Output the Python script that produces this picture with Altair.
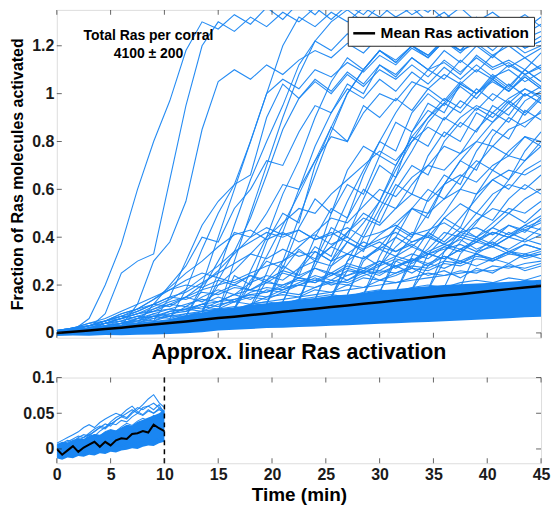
import altair as alt
import pandas as pd

FONT = "Liberation Sans"
BLUE = "#1a86f2"
AX = "#262626"
STEP = 1.5
TMAX = 45.0

# ---------------- top panel data (grid 0, 1.5, ..., 45) ----------------
mean_top = [0.0, 0.005, 0.01, 0.016, 0.022, 0.029, 0.035, 0.041, 0.048, 0.055, 0.062,
            0.068, 0.075, 0.081, 0.088, 0.095, 0.101, 0.108, 0.115, 0.122, 0.128,
            0.135, 0.142, 0.149, 0.156, 0.162, 0.169, 0.176, 0.183, 0.19, 0.196]

core_lo = [-0.013, -0.011, -0.012, -0.009, -0.01, -0.008, -0.007, -0.005, -0.001, 0.003,
           0.01, 0.013, 0.016, 0.02, 0.022, 0.025, 0.027, 0.03, 0.032, 0.035, 0.038,
           0.04, 0.043, 0.046, 0.049, 0.052, 0.055, 0.058, 0.061, 0.065, 0.068]
core_hi = [0.012, 0.018, 0.022, 0.029, 0.035, 0.042, 0.05, 0.058, 0.075, 0.085, 0.1,
           0.106, 0.118, 0.124, 0.13, 0.14, 0.146, 0.155, 0.16, 0.168, 0.178,
           0.182, 0.19, 0.195, 0.2, 0.203, 0.207, 0.21, 0.214, 0.218, 0.222]

m01 = [0.01, 0.02, 0.03, 0.05, 0.07, 0.06, 0.1, 0.12, 0.11, 0.15, 0.18, 0.16, 0.21, 0.24, 0.22, 0.27,
       0.3, 0.28, 0.33, 0.31, 0.36, 0.34, 0.38, 0.41, 0.37, 0.42, 0.4, 0.44, 0.41, 0.45, 0.43]
m02 = [0.0, 0.02, 0.04, 0.05, 0.08, 0.1, 0.14, 0.19, 0.25, 0.3, 0.36, 0.41, 0.43, 0.39, 0.42, 0.38,
       0.41, 0.37, 0.4, 0.36, 0.39, 0.42, 0.38, 0.4, 0.37, 0.41, 0.39, 0.36, 0.4, 0.38, 0.41]
m03 = [0.01, 0.01, 0.03, 0.04, 0.06, 0.08, 0.09, 0.12, 0.15, 0.2, 0.26, 0.33, 0.4, 0.44, 0.41, 0.43,
       0.39, 0.42, 0.38, 0.35, 0.38, 0.34, 0.37, 0.33, 0.36, 0.39, 0.35, 0.38, 0.34, 0.37, 0.35]
m04 = [0.0, 0.01, 0.02, 0.04, 0.05, 0.07, 0.06, 0.09, 0.1, 0.12, 0.11, 0.14, 0.16, 0.15, 0.18, 0.2,
       0.19, 0.22, 0.21, 0.24, 0.26, 0.25, 0.28, 0.27, 0.3, 0.29, 0.32, 0.31, 0.34, 0.33, 0.35]
m05 = [0.01, 0.0, 0.02, 0.03, 0.05, 0.04, 0.07, 0.08, 0.1, 0.09, 0.12, 0.13, 0.12, 0.15, 0.16, 0.15,
       0.18, 0.17, 0.2, 0.19, 0.22, 0.21, 0.23, 0.25, 0.24, 0.26, 0.25, 0.28, 0.27, 0.29, 0.3]
m06 = [0.0, 0.02, 0.01, 0.04, 0.03, 0.06, 0.08, 0.07, 0.11, 0.1, 0.13, 0.16, 0.14, 0.18, 0.17, 0.2,
       0.23, 0.2, 0.22, 0.25, 0.22, 0.24, 0.27, 0.24, 0.26, 0.23, 0.27, 0.25, 0.29, 0.26, 0.28]
m07 = [0.01, 0.02, 0.03, 0.05, 0.07, 0.1, 0.14, 0.18, 0.22, 0.25, 0.23, 0.21, 0.24, 0.22, 0.26, 0.24,
       0.27, 0.25, 0.29, 0.27, 0.3, 0.28, 0.31, 0.29, 0.32, 0.3, 0.33, 0.31, 0.34, 0.32, 0.33]
m08 = [0.0, 0.01, 0.02, 0.03, 0.04, 0.05, 0.07, 0.06, 0.08, 0.09, 0.1, 0.09, 0.12, 0.13, 0.12, 0.14,
       0.15, 0.16, 0.15, 0.17, 0.18, 0.17, 0.19, 0.2, 0.19, 0.21, 0.22, 0.21, 0.23, 0.22, 0.24]
m09 = [0.0, 0.01, 0.03, 0.04, 0.06, 0.05, 0.08, 0.1, 0.09, 0.12, 0.15, 0.13, 0.17, 0.19, 0.18, 0.21,
       0.24, 0.22, 0.26, 0.25, 0.28, 0.31, 0.29, 0.33, 0.31, 0.35, 0.33, 0.37, 0.35, 0.39, 0.37]
m10 = [0.01, 0.01, 0.02, 0.04, 0.06, 0.09, 0.12, 0.11, 0.15, 0.13, 0.17, 0.2, 0.18, 0.22, 0.19, 0.23,
       0.21, 0.25, 0.22, 0.26, 0.24, 0.28, 0.25, 0.29, 0.27, 0.3, 0.28, 0.31, 0.29, 0.33, 0.31]
m11 = [0.0, 0.01, 0.02, 0.02, 0.04, 0.05, 0.05, 0.07, 0.08, 0.08, 0.1, 0.11, 0.1, 0.12, 0.13, 0.13,
       0.14, 0.15, 0.15, 0.16, 0.17, 0.16, 0.18, 0.19, 0.18, 0.2, 0.19, 0.21, 0.2, 0.22, 0.21]
m12 = [0.0, 0.01, 0.02, 0.03, 0.04, 0.06, 0.07, 0.09, 0.1, 0.12, 0.13, 0.14, 0.16, 0.17, 0.19, 0.2,
       0.22, 0.21, 0.24, 0.26, 0.25, 0.28, 0.3, 0.33, 0.31, 0.35, 0.38, 0.36, 0.4, 0.43, 0.41]
m13 = [0.0, 0.01, 0.02, 0.04, 0.06, 0.08, 0.11, 0.14, 0.18, 0.23, 0.28, 0.34, 0.38, 0.42, 0.4, 0.43,
       0.39, 0.41, 0.44, 0.4, 0.42, 0.45, 0.41, 0.43, 0.46, 0.42, 0.44, 0.41, 0.45, 0.43, 0.46]
m14 = [0.01, 0.02, 0.03, 0.05, 0.07, 0.09, 0.12, 0.15, 0.17, 0.21, 0.25, 0.29, 0.33, 0.31, 0.35, 0.32,
       0.34, 0.3, 0.33, 0.31, 0.35, 0.32, 0.36, 0.33, 0.35, 0.37, 0.34, 0.36, 0.33, 0.37, 0.35]
m15 = [0.0, 0.01, 0.02, 0.04, 0.05, 0.07, 0.09, 0.1, 0.12, 0.14, 0.13, 0.16, 0.18, 0.17, 0.2, 0.22,
       0.21, 0.24, 0.27, 0.25, 0.29, 0.32, 0.3, 0.34, 0.37, 0.35, 0.39, 0.42, 0.4, 0.44, 0.47]
m16 = [0.01, 0.0, 0.02, 0.03, 0.04, 0.06, 0.05, 0.08, 0.09, 0.11, 0.1, 0.13, 0.15, 0.14, 0.17, 0.16,
       0.19, 0.21, 0.2, 0.23, 0.22, 0.25, 0.27, 0.26, 0.29, 0.28, 0.31, 0.3, 0.33, 0.32, 0.34]
m17 = [0.0, 0.02, 0.03, 0.05, 0.06, 0.08, 0.1, 0.13, 0.15, 0.18, 0.2, 0.22, 0.25, 0.28, 0.3, 0.34,
       0.31, 0.36, 0.33, 0.38, 0.35, 0.4, 0.36, 0.42, 0.38, 0.44, 0.4, 0.37, 0.42, 0.39, 0.44]
m18 = [0.01, 0.02, 0.04, 0.06, 0.09, 0.12, 0.15, 0.18, 0.2, 0.19, 0.22, 0.2, 0.24, 0.21, 0.25, 0.23,
       0.27, 0.24, 0.28, 0.26, 0.3, 0.27, 0.31, 0.28, 0.32, 0.29, 0.33, 0.3, 0.34, 0.31, 0.33]
m19 = [0.0, 0.01, 0.01, 0.03, 0.04, 0.04, 0.06, 0.07, 0.07, 0.09, 0.1, 0.1, 0.12, 0.13, 0.14, 0.15,
       0.16, 0.17, 0.18, 0.19, 0.2, 0.21, 0.22, 0.23, 0.24, 0.25, 0.26, 0.26, 0.28, 0.27, 0.29]
m20 = [0.01, 0.01, 0.03, 0.05, 0.08, 0.1, 0.12, 0.15, 0.14, 0.17, 0.16, 0.19, 0.18, 0.21, 0.2, 0.23,
       0.22, 0.25, 0.24, 0.27, 0.26, 0.3, 0.33, 0.31, 0.36, 0.34, 0.38, 0.42, 0.4, 0.45, 0.49]
mid_lines = [m01, m02, m03, m04, m05, m06, m07, m08, m09, m10, m11, m12, m13, m14,
             m15, m16, m17, m18, m19, m20]

# trajectories that leave the band and climb (start time, values every 1.5 min)
riser_start = [1.5, 3.0, 6.0, 9.0, 10.5, 12.0, 13.5, 13.5, 15.0, 16.5, 16.5, 18.0, 19.5, 19.5,
               21.0, 22.5, 24.0, 25.5, 27.0, 28.5, 30.0, 31.5, 33.0, 34.5, 36.0, 37.5,
               13.5, 18.0, 22.5, 25.5, 15.0,
               7.5, 19.5, 22.5, 24.0, 27.0, 28.5, 30.0, 31.5, 33.0, 34.5, 12.0, 16.5, 21.0, 25.5]
r01 = [0.01, 0.06, 0.2, 0.37, 0.6, 0.8, 0.97, 1.18, 1.3, 1.27, 1.33, 1.29, 1.36, 1.31, 1.38, 1.33,
       1.4, 1.35, 1.42, 1.38, 1.45, 1.4, 1.43, 1.39, 1.44, 1.4, 1.46, 1.42, 1.45, 1.41, 1.44]
r02 = [0.02, 0.08, 0.25, 0.3, 0.33, 0.64, 0.95, 1.2, 1.3, 1.26, 1.32, 1.28, 1.34, 1.3, 1.36, 1.31,
       1.37, 1.33, 1.4, 1.35, 1.38, 1.34, 1.4, 1.36, 1.41, 1.37, 1.42, 1.38, 1.41]
r03 = [0.03, 0.12, 0.3, 0.38, 0.55, 0.85, 1.05, 1.1, 1.06, 1.12, 1.08, 1.14, 1.18, 1.15, 1.21, 1.17,
       1.24, 1.2, 1.26, 1.22, 1.28, 1.24, 1.3, 1.26, 1.31, 1.27, 1.32]
r04 = [0.05, 0.15, 0.3, 0.45, 0.55, 0.62, 0.8, 1.0, 1.06, 1.02, 1.1, 1.07, 1.13, 1.09, 1.16, 1.12,
       1.19, 1.15, 1.22, 1.18, 1.25, 1.21, 1.27, 1.23, 1.26]
r05 = [0.06, 0.18, 0.35, 0.5, 0.62, 0.66, 0.9, 1.04, 0.98, 1.06, 1.01, 1.09, 1.04, 1.12, 1.07, 1.15,
       1.1, 1.13, 1.08, 1.16, 1.11, 1.14, 1.1, 1.17]
r06 = [0.07, 0.2, 0.4, 0.6, 0.8, 1.0, 1.2, 1.32, 1.28, 1.34, 1.3, 1.36, 1.32, 1.38, 1.33, 1.37,
       1.31, 1.36, 1.3, 1.34, 1.29, 1.33, 1.28]
r07 = [0.08, 0.22, 0.34, 0.48, 0.66, 0.85, 0.98, 1.05, 1.0, 1.08, 1.03, 1.1, 1.06, 1.12, 1.07, 1.14,
       1.09, 1.15, 1.1, 1.13, 1.08, 1.12]
r08 = [0.09, 0.25, 0.45, 0.64, 0.8, 0.95, 1.12, 1.22, 1.18, 1.25, 1.2, 1.28, 1.23, 1.3, 1.25, 1.29,
       1.24, 1.27, 1.22, 1.26, 1.2, 1.24]
r09 = [0.09, 0.24, 0.2, 0.38, 0.5, 0.46, 0.7, 0.86, 0.8, 0.95, 0.9, 0.98, 0.93, 1.02, 0.97, 1.05,
       1.0, 1.06, 1.01, 1.07, 1.02]
r10 = [0.1, 0.26, 0.4, 0.58, 0.72, 0.9, 1.05, 1.15, 1.1, 1.18, 1.13, 1.2, 1.16, 1.23, 1.18, 1.21,
       1.16, 1.2, 1.15, 1.19]
r11 = [0.1, 0.22, 0.3, 0.27, 0.44, 0.56, 0.5, 0.68, 0.78, 0.74, 0.88, 0.84, 0.93, 0.89, 0.97, 0.93,
       1.0, 0.96, 1.02, 0.98]
r12 = [0.11, 0.25, 0.42, 0.6, 0.78, 0.92, 1.02, 0.98, 1.06, 1.01, 1.09, 1.04, 1.11, 1.06, 1.12, 1.07,
       1.1, 1.05, 1.09]
r13 = [0.12, 0.28, 0.24, 0.4, 0.52, 0.48, 0.66, 0.8, 0.76, 0.92, 1.0, 0.95, 1.03, 0.98, 1.06, 1.01,
       1.07, 1.02]
r14 = [0.12, 0.3, 0.48, 0.66, 0.84, 1.0, 1.1, 1.18, 1.13, 1.2, 1.15, 1.22, 1.17, 1.23, 1.18, 1.24,
       1.19, 1.22]
r15 = [0.13, 0.27, 0.36, 0.32, 0.48, 0.6, 0.55, 0.7, 0.82, 0.78, 0.9, 0.86, 0.94, 0.9, 0.97, 0.92, 0.99]
r16 = [0.14, 0.3, 0.44, 0.4, 0.56, 0.7, 0.65, 0.84, 0.96, 0.92, 1.04, 1.0, 1.07, 1.02, 1.1, 1.05]
r17 = [0.14, 0.28, 0.38, 0.34, 0.5, 0.62, 0.58, 0.74, 0.84, 0.8, 0.92, 0.88, 0.96, 0.91, 0.98]
r18 = [0.15, 0.3, 0.42, 0.55, 0.68, 0.8, 0.9, 0.98, 0.94, 1.02, 0.97, 1.04, 0.99, 1.03]
r19 = [0.16, 0.32, 0.28, 0.4, 0.52, 0.48, 0.62, 0.72, 0.68, 0.82, 0.9, 0.86, 0.93]
r20 = [0.16, 0.32, 0.44, 0.4, 0.56, 0.66, 0.62, 0.76, 0.85, 0.81, 0.93, 0.89]
r21 = [0.17, 0.3, 0.27, 0.38, 0.48, 0.44, 0.58, 0.68, 0.64, 0.76, 0.84]
r22 = [0.17, 0.32, 0.42, 0.5, 0.6, 0.7, 0.78, 0.74, 0.82, 0.78]
r23 = [0.18, 0.33, 0.4, 0.48, 0.56, 0.64, 0.6, 0.68, 0.72]
r24 = [0.18, 0.34, 0.42, 0.5, 0.47, 0.56, 0.62, 0.58]
r25 = [0.19, 0.33, 0.4, 0.46, 0.52, 0.5, 0.55]
r26 = [0.19, 0.34, 0.39, 0.45, 0.42, 0.48]
r27 = [0.09, 0.2, 0.26, 0.33, 0.4, 0.46, 0.52, 0.5, 0.58, 0.64, 0.7, 0.76, 0.72, 0.8, 0.86, 0.82,
       0.9, 0.95, 0.92, 0.98, 1.02, 0.99]
r28 = [0.1, 0.22, 0.3, 0.36, 0.42, 0.48, 0.46, 0.53, 0.6, 0.57, 0.65, 0.7, 0.68, 0.75, 0.8, 0.78,
       0.85, 0.88, 0.92]
r29 = [0.13, 0.3, 0.36, 0.42, 0.48, 0.45, 0.52, 0.58, 0.55, 0.62, 0.66, 0.63, 0.7, 0.74, 0.72, 0.78]
r30 = [0.14, 0.3, 0.35, 0.41, 0.46, 0.52, 0.5, 0.56, 0.6, 0.58, 0.64, 0.68, 0.66, 0.7]
r31 = [0.09, 0.3, 0.5, 0.7, 0.9, 1.08, 1.22, 1.3, 1.35, 1.3, 1.37, 1.32, 1.36, 1.3, 1.34, 1.28,
       1.32, 1.27, 1.3, 1.25, 1.29]
r32 = [0.04, 0.12, 0.2, 0.28, 0.4, 0.38, 0.52, 0.6, 0.72, 0.7, 0.84, 0.95, 0.92, 1.04, 1.0, 1.12,
       1.08, 1.15, 1.1, 1.18, 1.13, 1.2, 1.15, 1.22, 1.17, 1.2]
r33 = [0.12, 0.26, 0.35, 0.3, 0.5, 0.62, 0.58, 0.74, 0.7, 0.82, 0.9, 0.96, 0.92, 1.0, 1.05, 1.01,
       1.08, 1.03]
r34 = [0.14, 0.28, 0.4, 0.55, 0.68, 0.8, 0.92, 1.02, 1.1, 1.06, 1.14, 1.09, 1.16, 1.11, 1.15, 1.1]
r35 = [0.14, 0.3, 0.38, 0.46, 0.55, 0.52, 0.62, 0.7, 0.78, 0.75, 0.85, 0.92, 0.88, 0.97, 1.01]
r36 = [0.16, 0.3, 0.36, 0.44, 0.52, 0.6, 0.56, 0.65, 0.72, 0.68, 0.76, 0.82, 0.8]
r37 = [0.16, 0.28, 0.36, 0.42, 0.4, 0.48, 0.54, 0.5, 0.58, 0.62, 0.6, 0.66]
r38 = [0.17, 0.32, 0.4, 0.5, 0.62, 0.72, 0.8, 0.88, 0.94, 1.0, 0.96]
r39 = [0.17, 0.3, 0.35, 0.42, 0.4, 0.47, 0.52, 0.5, 0.56, 0.6]
r40 = [0.18, 0.28, 0.34, 0.4, 0.38, 0.44, 0.5, 0.46, 0.52]
r41 = [0.18, 0.3, 0.38, 0.46, 0.55, 0.64, 0.72, 0.8]
r42 = [0.07, 0.18, 0.3, 0.42, 0.4, 0.5, 0.62, 0.6, 0.72, 0.82, 0.8, 0.92, 1.0, 0.97, 1.05, 1.02,
       1.08, 1.04, 1.1, 1.06, 1.12, 1.08, 1.11]
r43 = [0.1, 0.2, 0.32, 0.45, 0.58, 0.72, 0.86, 1.0, 1.1, 1.18, 1.14, 1.2, 1.16, 1.22, 1.18, 1.25,
       1.2, 1.24, 1.19, 1.22]
r44 = [0.13, 0.26, 0.34, 0.3, 0.42, 0.5, 0.46, 0.6, 0.7, 0.66, 0.8, 0.88, 0.84, 0.95, 0.91, 1.0, 0.96]
r45 = [0.15, 0.26, 0.4, 0.52, 0.65, 0.76, 0.88, 0.96, 1.04, 1.0, 1.08, 1.03, 1.1, 1.05]
risers = [r01, r02, r03, r04, r05, r06, r07, r08, r09, r10, r11, r12, r13, r14, r15, r16,
          r17, r18, r19, r20, r21, r22, r23, r24, r25, r26, r27, r28, r29, r30, r31,
          r32, r33, r34, r35, r36, r37, r38, r39, r40, r41, r42, r43, r44, r45]

# ---------------- bottom panel data (grid 0, 0.5, ..., 10) ----------------
BSTEP = 0.5
BMAX = 10.0
mean_bottom = [0.0, -0.008, -0.002, 0.004, -0.004, 0.002, 0.006, 0.01, 0.003, 0.01, 0.005,
               0.012, 0.015, 0.014, 0.021, 0.022, 0.025, 0.023, 0.034, 0.029, 0.025]
bot_lo = [-0.013, -0.015, -0.012, -0.013, -0.01, -0.011, -0.008, -0.009, -0.006, -0.007, -0.004,
          -0.005, -0.002, -0.001, 0.001, 0.0, 0.003, 0.005, 0.004, 0.008, 0.01]
bot_hi = [0.007, 0.01, 0.009, 0.013, 0.015, 0.014, 0.018, 0.021, 0.02, 0.024, 0.027,
          0.026, 0.03, 0.034, 0.033, 0.038, 0.041, 0.044, 0.047, 0.05, 0.055]
b01 = [0.005, 0.008, 0.012, 0.01, 0.016, 0.02, 0.018, 0.025, 0.03, 0.028, 0.035, 0.04, 0.045, 0.042,
       0.05, 0.055, 0.062, 0.07, 0.076, 0.065, 0.058]
b02 = [0.002, 0.006, 0.004, 0.01, 0.014, 0.012, 0.02, 0.024, 0.03, 0.035, 0.032, 0.04, 0.045, 0.05,
       0.055, 0.05, 0.058, 0.06, 0.055, 0.062, 0.05]
b03 = [0.0, 0.004, 0.008, 0.006, 0.012, 0.016, 0.02, 0.018, 0.025, 0.03, 0.036, 0.034, 0.04, 0.038,
       0.045, 0.05, 0.047, 0.053, 0.05, 0.055, 0.052]
b04 = [-0.01, -0.012, -0.008, -0.01, -0.005, -0.007, -0.002, -0.004, 0.0, 0.003, 0.001, 0.005, 0.004,
       0.008, 0.006, 0.01, 0.009, 0.013, 0.011, 0.015, 0.013]
b05 = [-0.005, -0.002, 0.0, 0.004, 0.002, 0.006, 0.01, 0.008, 0.013, 0.016, 0.014, 0.019, 0.022, 0.02,
       0.025, 0.028, 0.026, 0.031, 0.034, 0.032, 0.036]
b06 = [0.003, 0.0, 0.005, 0.009, 0.007, 0.012, 0.015, 0.02, 0.018, 0.024, 0.027, 0.025, 0.031, 0.036,
       0.033, 0.039, 0.043, 0.04, 0.047, 0.044, 0.049]
b07 = [0.004, 0.007, 0.01, 0.014, 0.018, 0.016, 0.022, 0.028, 0.032, 0.03, 0.038, 0.044, 0.048, 0.055,
       0.06, 0.052, 0.048, 0.055, 0.05, 0.057, 0.047]
b08 = [-0.008, -0.004, -0.006, -0.001, 0.002, 0.0, 0.005, 0.003, 0.008, 0.011, 0.009, 0.014, 0.017,
       0.015, 0.02, 0.024, 0.022, 0.027, 0.03, 0.028, 0.033]
b09 = [0.008, 0.012, 0.016, 0.02, 0.024, 0.03, 0.034, 0.03, 0.037, 0.042, 0.046, 0.05, 0.047, 0.044,
       0.052, 0.058, 0.055, 0.06, 0.064, 0.058, 0.053]
bottom_lines = [b01, b02, b03, b04, b05, b06, b07, b08, b09]

x_ticks = [0, 5, 10, 15, 20, 25, 30, 35, 40, 45]
y_ticks_top = [0, 0.2, 0.4, 0.6, 0.8, 1.0, 1.2]
y_ticks_bot = [0, 0.05, 0.1]
linear_limit = 10
legend_label = "Mean Ras activation"
note_lines = ["Total Ras per corral", "4100 \u00b1 200"]


def rows(name, t0, step, vals, tmax):
    out = []
    for k, v in enumerate(vals):
        t = round(t0 + k * step, 6)
        if t <= tmax + 1e-9:
            out.append({"id": name, "t": t, "v": v})
    return out


top_lines = []
for i, vals in enumerate(mid_lines):
    top_lines += rows(f"m{i}", 0.0, STEP, vals, TMAX)
for i, (t0, vals) in enumerate(zip(riser_start, risers)):
    top_lines += rows(f"r{i}", t0, STEP, vals, TMAX)
top_lines_df = pd.DataFrame(top_lines)
top_mean_df = pd.DataFrame(rows(legend_label, 0.0, STEP, mean_top, TMAX))
top_core_df = pd.DataFrame({"t": [round(k * STEP, 6) for k in range(len(core_lo))],
                            "lo": core_lo, "hi": core_hi})

bot_lines = []
for i, vals in enumerate(bottom_lines):
    bot_lines += rows(f"b{i}", 0.0, BSTEP, vals, BMAX)
bot_lines_df = pd.DataFrame(bot_lines)
bot_mean_df = pd.DataFrame(rows("mean", 0.0, BSTEP, mean_bottom, BMAX))
bot_core_df = pd.DataFrame({"t": [round(k * BSTEP, 6) for k in range(len(bot_lo))],
                            "lo": bot_lo, "hi": bot_hi})

W, H1, H2 = 486, 329, 86
xs = alt.Scale(domain=[0, 45], nice=False, zero=False)
ys1 = alt.Scale(domain=[-0.02, 1.35], nice=False, zero=False)
ys2 = alt.Scale(domain=[-0.02, 0.1], nice=False, zero=False)

lab = dict(labelFont=FONT, labelFontSize=16, labelFontWeight="bold", labelColor="#1a1a1a",
           tickSize=0, domain=False, grid=False, ticks=False)

y1_axis = alt.Axis(values=y_ticks_top, format="~g", title="Fraction of Ras molecules activated",
                   titleFont=FONT, titleFontSize=16, titleFontWeight="bold", titleColor="#000",
                   titlePadding=6, labelPadding=3, **lab)
y2_axis = alt.Axis(values=y_ticks_bot, format="~g", title=None, labelPadding=3, **lab)
x2_axis = alt.Axis(values=x_ticks, format="~g", title="Time (min)", titleFont=FONT,
                   titleFontSize=19, titleFontWeight="bold", titleColor="#000",
                   titlePadding=3, labelPadding=3, labelFlush=False, **lab)


def X1(f="t"):
    return alt.X(f"{f}:Q", scale=xs, axis=None)


def Y1(f):
    return alt.Y(f"{f}:Q", scale=ys1, axis=y1_axis)


def X2(f="t"):
    return alt.X(f"{f}:Q", scale=xs, axis=x2_axis)


def Y2(f):
    return alt.Y(f"{f}:Q", scale=ys2, axis=y2_axis)


xt_df = pd.DataFrame({"t": x_ticks})
yt1_df = pd.DataFrame({"v": y_ticks_top})
yt2_df = pd.DataFrame({"v": y_ticks_bot})


def tick_layers(Xf, Yf, ydf, height):
    tk = dict(color=AX, thickness=1, size=5)
    return [
        alt.Chart(xt_df).mark_tick(orient="vertical", **tk).encode(x=Xf("t"), y=alt.value(height - 2.5)),
        alt.Chart(xt_df).mark_tick(orient="vertical", **tk).encode(x=Xf("t"), y=alt.value(2.5)),
        alt.Chart(ydf).mark_tick(orient="horizontal", **tk).encode(y=Yf("v"), x=alt.value(2.5)),
        alt.Chart(ydf).mark_tick(orient="horizontal", **tk).encode(y=Yf("v"), x=alt.value(W - 2.5)),
    ]


core1 = alt.Chart(top_core_df).mark_area(color=BLUE, opacity=1, clip=True).encode(
    x=X1(), y=Y1("lo"), y2="hi:Q")
lines1 = alt.Chart(top_lines_df).mark_line(color=BLUE, strokeWidth=1.1, clip=True, opacity=0.95).encode(
    x=X1(), y=Y1("v"), detail="id:N")
mean1 = alt.Chart(top_mean_df).mark_line(strokeWidth=2.5, clip=True).encode(
    x=X1(), y=Y1("v"),
    color=alt.Color("id:N", scale=alt.Scale(domain=[legend_label], range=["#000000"]),
                    legend=alt.Legend(title=None, orient="top-right", offset=7, fillColor="white",
                                      strokeColor=AX, padding=4, symbolType="stroke",
                                      symbolStrokeWidth=2.5, symbolSize=480, labelFont=FONT,
                                      labelFontSize=15.5, labelFontWeight="bold",
                                      labelColor="#000", labelOffset=4)))
note = alt.Chart(pd.DataFrame({"a": [0]})).mark_text(
    text=note_lines, font=FONT, fontSize=14, fontWeight="bold", color="#000",
    align="center", baseline="top", lineHeight=18).encode(x=alt.value(92), y=alt.value(19))

top = alt.layer(core1, lines1, mean1, note, *tick_layers(X1, Y1, yt1_df, H1)).properties(
    width=W, height=H1)

core2 = alt.Chart(bot_core_df).mark_area(color=BLUE, opacity=1, clip=True).encode(
    x=X2(), y=Y2("lo"), y2="hi:Q")
lines2 = alt.Chart(bot_lines_df).mark_line(color=BLUE, strokeWidth=1.1, clip=True, opacity=0.95).encode(
    x=X2(), y=Y2("v"), detail="id:N")
mean2 = alt.Chart(bot_mean_df).mark_line(color="#000", strokeWidth=2, clip=True).encode(
    x=X2(), y=Y2("v"))
limit = alt.Chart(pd.DataFrame({"t": [linear_limit]})).mark_rule(
    color="#000", strokeWidth=1.5, strokeDash=[5, 4]).encode(x=X2("t"))

bottom = alt.layer(core2, lines2, mean2, limit, *tick_layers(X2, Y2, yt2_df, H2)).properties(
    width=W, height=H2,
    title=alt.TitleParams("Approx. linear Ras activation", font=FONT, fontSize=21.5,
                          fontWeight="bold", color="#000", anchor="middle", offset=6))

chart = alt.vconcat(top, bottom, spacing=0).properties(
    padding={"left": 9, "top": 8, "right": 0, "bottom": 0}
).configure_view(stroke=AX, strokeWidth=1.2).configure(background="white")

chart.save("out.html", embed_options={"renderer": "svg", "actions": False})
